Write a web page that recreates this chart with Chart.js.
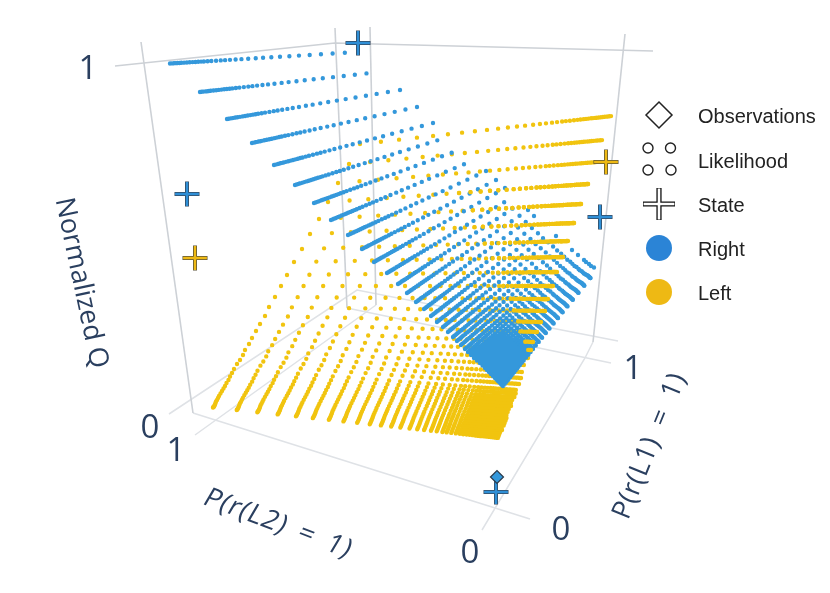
<!DOCTYPE html>
<html><head><meta charset="utf-8">
<style>html,body{margin:0;padding:0;background:#fff}canvas{display:block}</style>
<script src="https://cdn.jsdelivr.net/npm/chart.js@4"></script>
</head><body><canvas id="c" width="830" height="593"></canvas>
<script>
// Values, in the picture's projected plane.
const blueStarts=[[170,63.5],[200,92],[227,119],[252,143],[274,165],[295,185],[314,203],[331,220],[348,235],[362,249],[374,262],[387,273],[398,284],[407,293],[416,302],[424,309],[431,316],[437,322],[443,327],[448,332],[453,337],[457,341],[461,345],[465,349],[468,352],[471,355],[474,358],[477,360.5],[480,363],[482.5,365.5],[485,368],[487,370],[489,372],[491,374],[493,376],[495,378],[496.5,379.5],[498,381],[499.5,382.5],[501,384],[502,385],[503,386]];
const blueEnds=[[358,52],[379,72],[400,90],[417,107],[433,123],[448,137],[462,149],[474,160],[486,171],[496,180],[505,188],[513,197],[521,203],[528,210],[534,216],[540,222],[546,227],[551,232],[556,236],[561,240],[565,244],[569,247],[572,250],[575,253],[578,255],[580,257],[582,259],[584,260],[586,262],[587,263],[589,264],[590,265],[591,266],[592,266.5],[593,267],[594,267.5],[595,268],[595.5,268.5],[596,269],[596.5,269.5],[597,270],[597,270]];
const blueStops=[0,.01,.02,.03,.04,.05,.06,.075,.09,.105,.12,.135,.15,.165,.18,.2,.22,.245,.27,.293,.319,.349,.38,.416,.456,.495,.539,.585,.635,.686,.743,.803,.865,.93,1];
const blueDense=[[468,352],[502,331],[528,355],[502,386],[468,352]];
const leftStarts=[[360,144],[349,164],[338,183],[328,202],[319,219],[310,234],[302,249],[294,262],[287,275],[281,286],[275,297],[269,307],[265,316],[260,324],[256,331],[252,338],[249,344],[245,350],[243,355],[240,360],[237,364],[234,369],[232,373],[230,376.5],[228.5,380],[226.5,383],[225,386],[223.5,388.5],[222,391],[220.5,393.5],[219,396],[218,398],[217,400],[216,401.5],[215.5,403],[215,404.5],[214.5,405.5],[214,406.5],[213.5,407],[213,407.5]];
const leftEnds=[[612,116],[603,140],[597,162],[588,184],[581,204],[574,223],[568,241],[563,257],[557,272],[553,286],[548,299],[545,311],[541,322],[537,332],[533,342],[531,350],[528,358],[525,365],[523,372],[521,378],[519,384],[517,390],[515.7,393.5],[514.4,397],[513.3,400],[512.1,403],[511,406],[509.9,409],[508.8,412],[507.6,415],[506.5,418],[505.6,420.5],[504.6,423],[503.7,425.5],[502.8,428],[502,430],[501.3,432],[500.5,434],[499.8,436],[499,438]];
const leftStops=[0,.083,.155,.226,.29,.349,.405,.456,.504,.548,.587,.623,.655,.687,.714,.738,.762,.782,.802,.817,.833,.849,.863,.875,.887,.897,.907,.917,.925,.933,.94,.948,.956,.964,.972,.978,.984,.99,.996,1];
const frontRows=[3,4,5,6,7,8,9,10,11,12,13,14,15];
const frontFrom=[8,10,11,13,15,17,19,22,24,27,30,34,37];
const boxDark=[[[115,66],[335,43],[653,51]],[[335,28],[347,308]],[[370,27],[376,305]],[[141,42],[193,413]],[[625,34],[593,342]]];
const boxLight=[[[169,414],[357,290],[618,341]],[[195,435],[376,305]],[[347,308],[611,363]],[[193,413],[530,519]],[[593,342],[585,358],[482,530]]];
const stateRight=[[358,43],[187,194],[600,217],[496,492]];
const stateLeft=[[195,258],[606,162]];
const observation=[[497,477]];
const legendObs=[[659,115]];
const legendLik=[[648,148],[670.5,148],[648,170],[671,170]];
const legendState=[[659,204]];
const legendRight=[[659,248]];
const legendLeft=[[659,292]];
const legendNames=['Observations','Likelihood','State','Right','Left'];
const legendY=[117,162,206,250,294];
const tickTexts=[['1',88,70],['0',150,429],['1',176,452],['0',470,554],['0',561,531],['1',633,370]];
const axisTexts=[['Normalized Q',81,283,78,0,0,0],['P(r(L2) = 1)',278,524,20.5,.8,6,-.18],['P(r(L1) = 1)',650,446,-68,.8,6,0]];

const BLUE='#3498db',YEL='#f1c40f';
const pts=a=>a.map(p=>({x:p[0],y:p[1]}));
function pattern(stops,L,from){
  const out=[];
  if(from>0)out.push(0,stops[from]*L);
  for(let i=from;i<stops.length-1;i++)out.push(0,(stops[i+1]-stops[i])*L);
  out.push(0,5000);
  return out;
}
function rows(starts,ends,stops,color,w,order){
  return starts.map((s,i)=>{const e=ends[i],L=Math.hypot(e[0]-s[0],e[1]-s[1]);
    return {data:pts([s,e]),showLine:true,pointRadius:0,borderColor:color,borderWidth:w,borderCapStyle:'round',
      borderDash:pattern(stops,L,0),order};});
}
const ds=[];
boxDark.forEach(l=>ds.push({data:pts(l),showLine:true,pointRadius:0,borderColor:'#cdd1d6',borderWidth:1.6,order:100}));
boxLight.forEach(l=>ds.push({data:pts(l),showLine:true,pointRadius:0,borderColor:'#dfe2e6',borderWidth:1.5,order:100}));
ds.push(...rows(leftStarts,leftEnds,leftStops,YEL,4.4,50));
ds.push(...rows(blueStarts,blueEnds,blueStops,BLUE,4.4,40));
ds.push({data:pts(blueDense),showLine:true,pointRadius:0,borderColor:BLUE,borderWidth:1,fill:'shape',backgroundColor:BLUE,order:39});
frontRows.forEach((i,k)=>{const s=leftStarts[i],e=leftEnds[i],L=Math.hypot(e[0]-s[0],e[1]-s[1]);
  ds.push({data:pts([s,e]),showLine:true,pointRadius:0,borderColor:YEL,borderWidth:4.4,borderCapStyle:'round',
    borderDash:pattern(leftStops,L,frontFrom[k]),borderDashOffset:.001,order:30});});
function cross(a,fill,edge,r,w,e){
  ds.push({data:pts(a),pointStyle:'cross',pointRadius:r-.6,pointBorderColor:fill,pointBorderWidth:w,order:8});
  ds.push({data:pts(a),pointStyle:'cross',pointRadius:r,pointBorderColor:edge,pointBorderWidth:w+e,order:9});
}
cross(stateRight,'#2f8fd6','#34495e',12.5,2.4,1.6);
cross(stateLeft,'#eeb914','#5a5338',12.5,2.4,1.6);
ds.push({data:pts(observation),pointStyle:'rectRot',pointRadius:6.5,pointBackgroundColor:BLUE,pointBorderColor:'#2b3a4a',pointBorderWidth:1.2,order:7});
ds.push({data:pts(legendObs),pointStyle:'rectRot',pointRadius:13,pointBackgroundColor:'#fff',pointBorderColor:'#222',pointBorderWidth:1.5,order:5});
ds.push({data:pts(legendLik),pointStyle:'circle',pointRadius:5,pointBackgroundColor:'#fff',pointBorderColor:'#222',pointBorderWidth:1.4,order:5});
cross(legendState,'#fff','#111',16,2.6,2.6);
ds.push({data:pts(legendRight),pointStyle:'circle',pointRadius:13,pointBackgroundColor:'#2b84d6',pointBorderWidth:0,order:5});
ds.push({data:pts(legendLeft),pointStyle:'circle',pointRadius:13,pointBackgroundColor:'#eeb914',pointBorderWidth:0,order:5});

const textPlugin={id:'texts',afterDraw(ch){
  const c=ch.ctx,xs=ch.scales.x,ys=ch.scales.y;
  c.save();c.textAlign='center';c.textBaseline='middle';
  c.fillStyle='#2a3f5f';c.font='33px "Open Sans"';
  tickTexts.forEach(t=>c.fillText(t[0],xs.getPixelForValue(t[1]),ys.getPixelForValue(t[2])));
  c.font='27px "Open Sans"';
  axisTexts.forEach(t=>{c.save();c.letterSpacing=t[4]+'px';c.wordSpacing=t[5]+'px';c.translate(xs.getPixelForValue(t[1]),ys.getPixelForValue(t[2]));c.rotate(t[3]*Math.PI/180);c.transform(1,0,t[6],1,0,0);c.fillText(t[0],0,0);c.restore();});
  c.fillStyle='#222';c.textAlign='left';c.font='20px "Liberation Sans"';
  legendNames.forEach((n,i)=>c.fillText(n,xs.getPixelForValue(698),ys.getPixelForValue(legendY[i])));
  c.restore();
}};
new Chart(document.getElementById('c'),{type:'scatter',data:{datasets:ds},plugins:[textPlugin],options:{
  responsive:false,animation:false,layout:{padding:0,autoPadding:false},events:[],
  plugins:{legend:{display:false},tooltip:{enabled:false}},
  scales:{x:{type:'linear',min:0,max:830,display:false},y:{type:'linear',min:0,max:593,reverse:true,display:false}}
}});
</script></body></html>
